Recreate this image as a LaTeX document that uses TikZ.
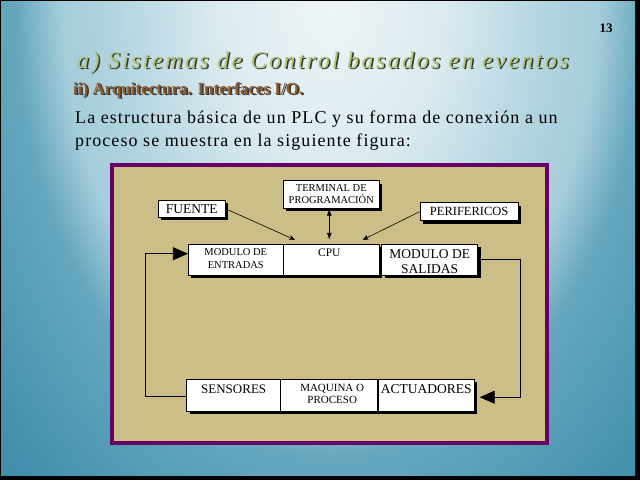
\documentclass[tikz,border=0pt]{standalone}
\usepackage{fontspec}
\setmainfont{Liberation Serif}
\usetikzlibrary{positioning,shadows,arrows.meta}

\definecolor{marco}{RGB}{102,0,102}
\definecolor{arena}{RGB}{204,190,135}
\definecolor{oliva}{RGB}{178,198,114}
\definecolor{marron}{RGB}{139,92,45}
\definecolor{fondoA}{RGB}{238,244,246}
\definecolor{fondoB}{RGB}{220,235,240}
\definecolor{fondoC}{RGB}{176,211,223}
\definecolor{fondoD}{RGB}{165,205,218}
\definecolor{fondoE}{RGB}{102,167,190}
\definecolor{fondoF}{RGB}{63,142,171}

\pgfdeclareradialshading{fondo}{\pgfpoint{0bp}{0bp}}{%
  color(0bp)=(fondoA); color(6bp)=(fondoB); color(12bp)=(fondoC);
  color(14.5bp)=(fondoD); color(17bp)=(fondoE); color(24.5bp)=(fondoF);
  color(50bp)=(fondoF)}

\tikzset{
  bloque/.style={draw, fill=white, line width=0.8pt, inner sep=0pt,
    drop shadow={shadow xshift=3pt, shadow yshift=-3pt, fill=black, opacity=1}},
  rotulo/.style={inner sep=0pt, align=center},
  flecha/.style={-{Stealth[length=6pt,width=5pt]}, line width=0.6pt},
  doble/.style={{Latex[length=7pt,width=5pt]}-{Latex[length=7pt,width=5pt]}, line width=0.8pt},
  realim/.style={-{Triangle[length=15pt,width=13pt]}, line width=0.8pt}
}

\begin{document}
\begin{tikzpicture}[x=1pt,y=-1pt]
\useasboundingbox (0,0) rectangle (640,480);
% fondo de la diapositiva
\fill[black] (0,0) rectangle (640,480);
\begin{scope}
  \clip (1,1) rectangle (635,475);
  \shade[shading=fondo] (-132,-672) rectangle (792,672);
\end{scope}

\node[anchor=base, inner sep=0pt, font=\fontsize{13}{15}\selectfont\bfseries] (num) at (606,32) {13};

% titulos
\node[anchor=base west, inner sep=0pt, font=\fontsize{24}{28}\selectfont\itshape\addfontfeatures{LetterSpace=10}, text=black!80] (titulo-s) at (78.5,69.5) {a) Sistemas de Control basados en eventos};
\node[anchor=base west, inner sep=0pt, font=\fontsize{24}{28}\selectfont\itshape\addfontfeatures{LetterSpace=10}, text=oliva] (titulo) at (77,68) {a) Sistemas de Control basados en eventos};
\node[anchor=base west, inner sep=0pt, font=\fontsize{17}{21}\selectfont\bfseries, text=black!80] (sub-s) at (74.5,95.5) {ii) Arquitectura. Interfaces I/O.};
\node[anchor=base west, inner sep=0pt, font=\fontsize{17}{21}\selectfont\bfseries, text=marron] (sub) at (73,94) {ii) Arquitectura. Interfaces I/O.};
\node[anchor=base west, font=\fontsize{18}{23}\selectfont\addfontfeatures{LetterSpace=6}, align=left, inner sep=0pt] (texto) at (75,146) {La estructura básica de un PLC y su forma de conexión a un\\proceso se muestra en la siguiente figura:};

% marco de la figura
\draw[marco, line width=4pt, fill=arena] (112,165) rectangle (547,443);

% bloques del PLC
\node[bloque, minimum width=95pt, minimum height=31pt] (entradas) at (235.8,259.7) {};
\node[bloque, minimum width=96pt, minimum height=31pt] (cpu) at (331.3,259.7) {};
\node[bloque, minimum width=96pt, minimum height=31pt] (salidas) at (429.7,259.5) {};
\node[rotulo, font=\fontsize{10.5}{12.5}\selectfont, below=4.7pt of entradas.north] (t-entradas) {MODULO DE\\ENTRADAS};
\node[rotulo, font=\fontsize{11.5}{13}\selectfont, below=4.7pt of cpu.north, xshift=-2pt] (t-cpu) {CPU};
\node[rotulo, font=\fontsize{13.5}{15}\selectfont, below=6pt of salidas.north] (t-salidas) {MODULO DE\\SALIDAS};

\node[bloque, minimum width=66.7pt, minimum height=17.3pt, font=\fontsize{13.5}{15}\selectfont] (fuente) at (191.7,208.7) {FUENTE};
\node[bloque, minimum width=96pt, minimum height=27.6pt, font=\fontsize{10.5}{12}\selectfont, align=center] (terminal) at (331.3,194.5) {TERMINAL DE\\PROGRAMACIÓN};
\node[bloque, minimum width=98.3pt, minimum height=18pt, font=\fontsize{12.5}{14}\selectfont] (perifericos) at (469.2,211.7) {PERIFERICOS};

% proceso
\node[bloque, minimum width=94pt, minimum height=31.7pt] (sensores) at (233.7,395.2) {};
\node[bloque, minimum width=97pt, minimum height=31.7pt] (maquina) at (329.2,395.2) {};
\node[bloque, minimum width=96pt, minimum height=31.7pt] (actuadores) at (426.3,395.2) {};
\node[rotulo, font=\fontsize{13}{15}\selectfont, below=5.7pt of sensores.north] (t-sensores) {SENSORES};
\node[rotulo, font=\fontsize{11}{12.5}\selectfont, below=4.7pt of maquina.north, xshift=3pt] (t-maquina) {MAQUINA O\\PROCESO};
\node[rotulo, font=\fontsize{13.5}{15}\selectfont, below=5.7pt of actuadores.north] (t-actuadores) {ACTUADORES};

% conexiones
\draw[flecha] (fuente.east) -- ([xshift=12pt,yshift=4pt]cpu.north west);
\draw[flecha] (perifericos.west) -- ([xshift=-17pt,yshift=4pt]cpu.north east);
\draw[doble] ([xshift=-2pt]terminal.south) -- ([xshift=-2pt,yshift=4pt]cpu.north);

\draw[realim] (salidas.east) -- ++(42.3,0) |- ([xshift=5pt,yshift=-2pt]actuadores.east);
\draw[realim] ([yshift=-1.5pt]sensores.west) -- ++(-40.7,0) |- ([yshift=6pt]entradas.west);
\end{tikzpicture}
\end{document}
